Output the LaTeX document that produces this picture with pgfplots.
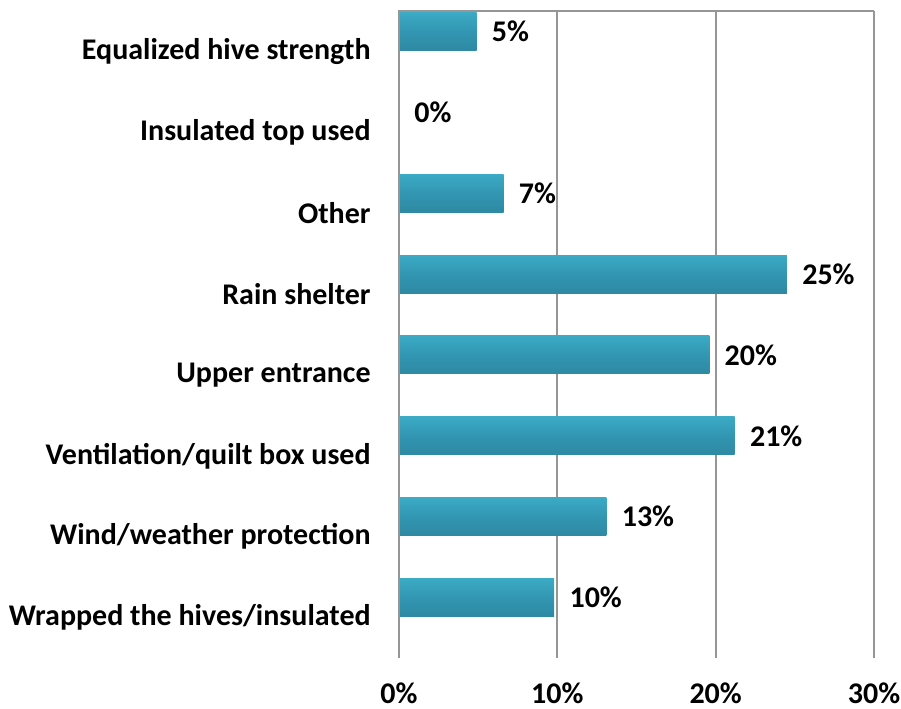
\documentclass[border=0pt]{standalone}
\usepackage{fontspec}
\setmainfont{Carlito}
\usepackage{pgfplots}
\pgfplotsset{compat=1.18}
\usetikzlibrary{calc}
\definecolor{gridgray}{RGB}{150,150,150}
\definecolor{bA}{RGB}{36,92,108}
\definecolor{bB}{RGB}{44,128,152}
\definecolor{bC}{RGB}{50,150,178}
\definecolor{bD}{RGB}{62,176,202}
\definecolor{bE}{RGB}{100,224,245}
\definecolor{bF}{RGB}{125,236,252}
\pgfdeclareverticalshading{barshade}{100bp}{color(0bp)=(bA); color(8bp)=(bB); color(50bp)=(bC); color(82bp)=(bD); color(91bp)=(bE); color(100bp)=(bF)}
\pgfplotsset{barstyle/.style={draw=none, shading=barshade, bar width=19pt, bar shift=10pt}}
\begin{document}
\begin{tikzpicture}
\begin{axis}[
  name=ax,
  scale only axis,
  width=237.5pt, height=323.5pt,
  xbar, bar width=19pt, bar shift=10pt,
  xmin=0, xmax=30,
  ymin=-0.5, ymax=7.5,
  xtick={0,10,20,30},
  xticklabels={0\%,10\%,20\%,30\%},
  ytick={0,1,2,3,4,5,6,7},
  yticklabels={Wrapped the hives/insulated,Wind/weather protection,Ventilation/quilt box used,Upper entrance,Rain shelter,Other,Insulated top used,Equalized hive strength},
  major tick length=0pt,
  xmajorgrids,
  grid style={gridgray, line width=1pt},
  axis line style={draw=none},
  separate axis lines,
  font=\fontsize{15}{18}\selectfont\bfseries,
  /pgf/number format/assume math mode=true,
  xticklabel style={anchor=center, yshift=-17.5pt, inner sep=0pt},
  yticklabel style={anchor=east, xshift=-14pt, inner sep=0pt},
  nodes near coords,
  point meta=explicit symbolic,
  every node near coord/.append style={anchor=west, inner sep=0pt, xshift=7.5pt, font=\fontsize{15}{18}\selectfont\bfseries},
  clip=false,
]
\addplot[barstyle] coordinates {(9.8,0) [10\%]};
\addplot[barstyle] coordinates {(13.1,1) [13\%]};
\addplot[barstyle] coordinates {(21.2,2) [21\%]};
\addplot[barstyle] coordinates {(19.6,3) [20\%]};
\addplot[barstyle] coordinates {(24.5,4) [25\%]};
\addplot[barstyle] coordinates {(6.6,5) [7\%]};
\addplot[barstyle] coordinates {(0,6) [0\%]};
\addplot[barstyle] coordinates {(4.9,7) [5\%]};
\draw[gridgray, line width=1pt] (rel axis cs:0,0) -- (rel axis cs:0,1) -- (rel axis cs:1,1);
\end{axis}
\pgfresetboundingbox
\path[use as bounding box] ($(ax.south west)+(-199.5pt,-25pt)$) rectangle ($(ax.north east)+(13.5pt,5.5pt)$);
\end{tikzpicture}
\end{document}
